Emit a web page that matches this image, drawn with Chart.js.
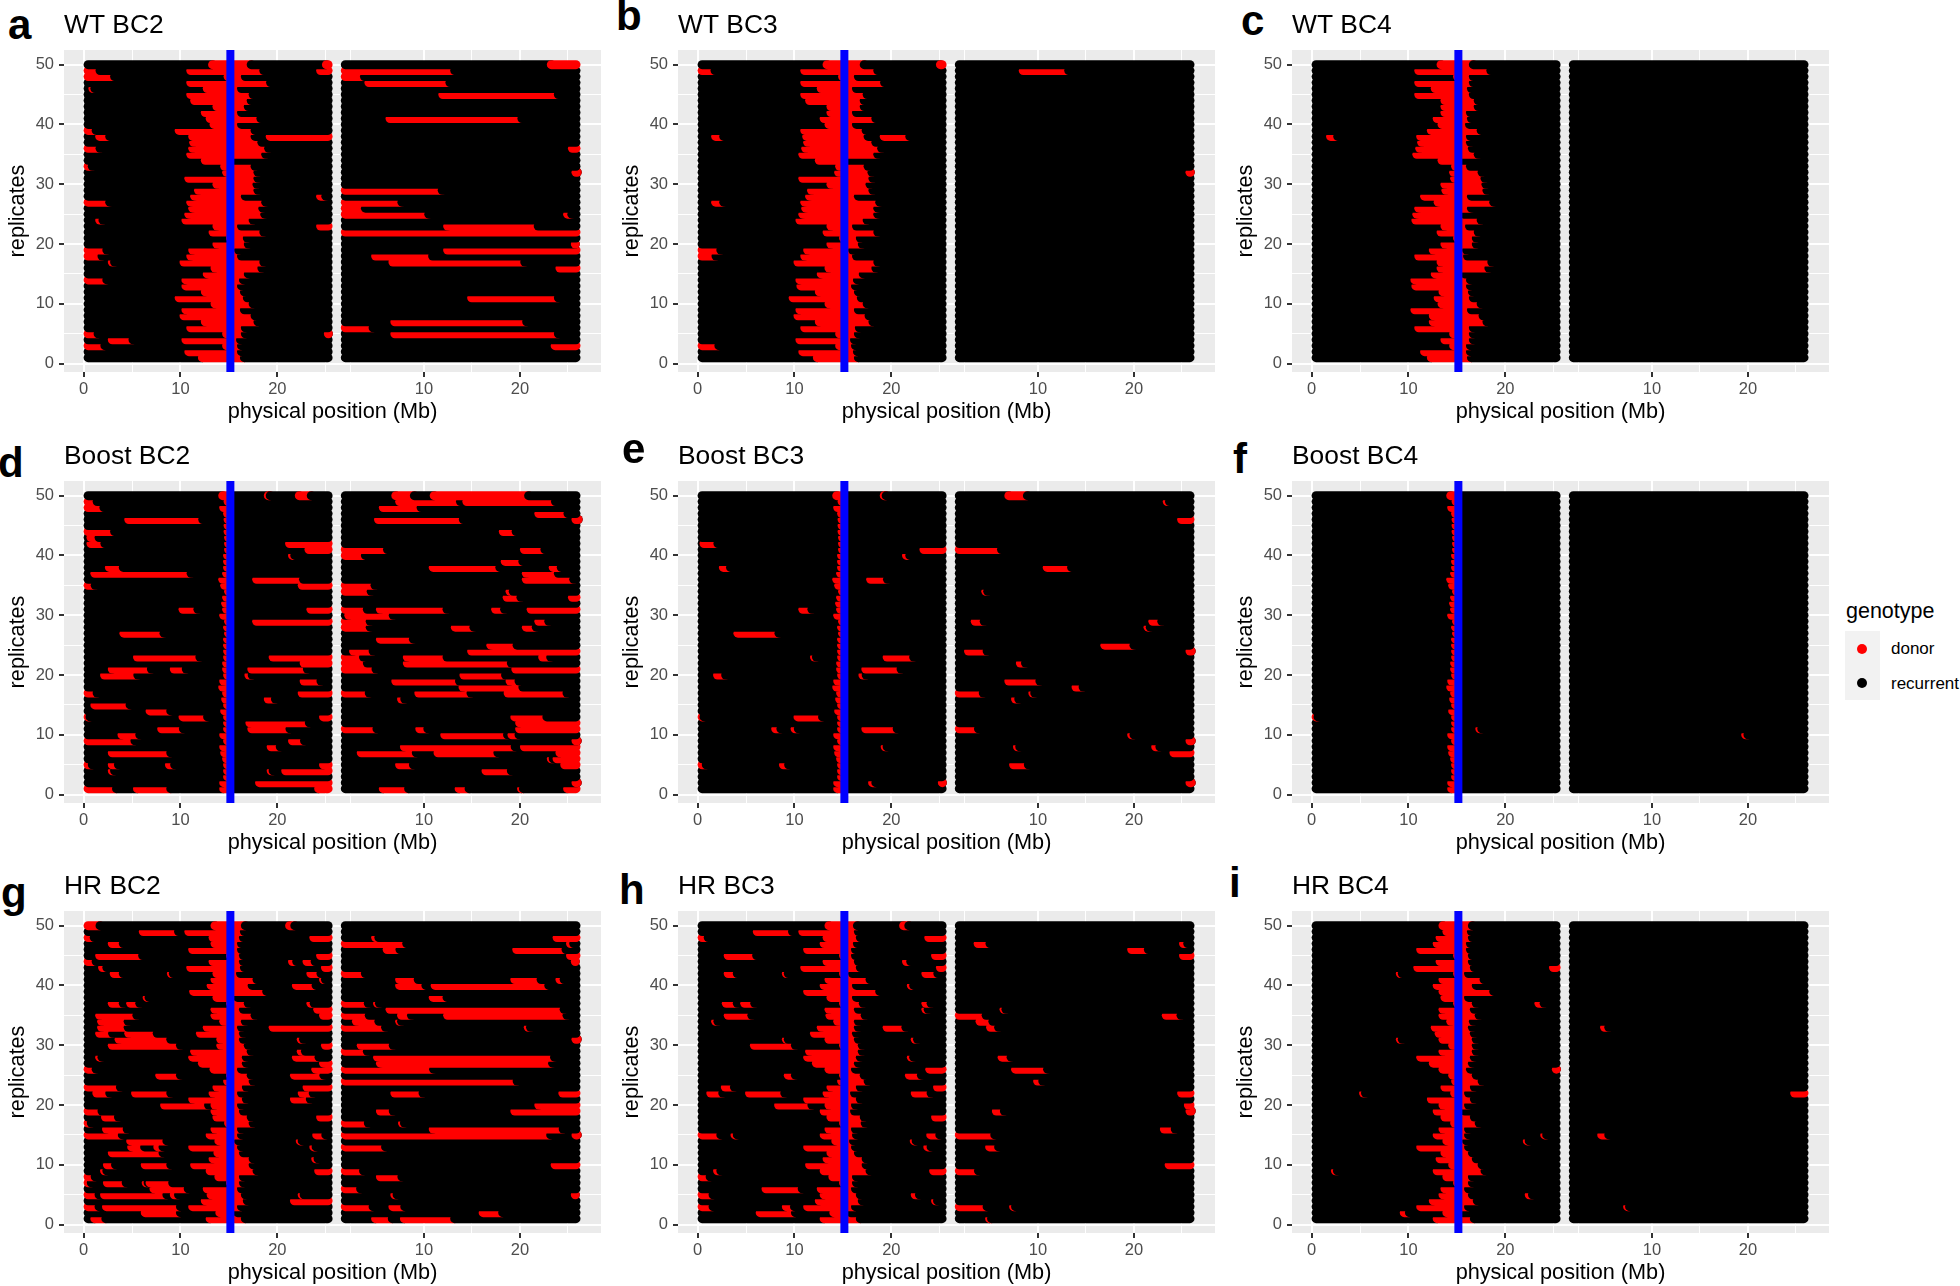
<!DOCTYPE html>
<html>
<head>
<meta charset="utf-8">
<title>replicates</title>
<script src="https://cdn.jsdelivr.net/npm/chart.js@4"></script>
<style>
  html, body { margin: 0; padding: 0; background: #fff; }
  body { position: relative; width: 1960px; height: 1286px; overflow: hidden; font-family: "Liberation Sans", sans-serif; }
  canvas { position: absolute; }
  .letter { position: absolute; font-size: 42px; line-height: 42px; font-weight: bold; color: #000; }
  .lg { position: absolute; color: #000; white-space: nowrap; }
</style>
</head>
<body>
<div class="lg" style="left:1846px;top:598px;font-size:21.5px;line-height:26px">genotype</div>
<div class="lg" style="left:1845px;top:631px;width:35px;height:69px;background:#f2f2f2"></div>
<div class="lg" style="left:1857px;top:644px;width:10px;height:10px;border-radius:5px;background:#ff0000"></div>
<div class="lg" style="left:1857px;top:678px;width:10px;height:10px;border-radius:5px;background:#000"></div>
<div class="lg" style="left:1891px;top:639px;font-size:17px;line-height:20px">donor</div>
<div class="lg" style="left:1891px;top:674px;font-size:17px;line-height:20px">recurrent</div>
<script>
// donor segments: [replicate, from Mb, to Mb]
const wtBc2Left = [[50,12.85,17.3],[50,24.6,25.7],[49,0,1.7],[49,10.6,18.6],[49,24,25.7],[48,0,3.2],[48,14.45,16.7],[47,10.6,19.3],[46,0.5,0.9],[46,12.3,16.3],[45,10.6,17.5],[44,11,17.3],[43,13.3,17],[42,12.1,16.3],[41,12.6,18.3],[40,13,16.3],[39,0,1.3],[39,9.4,17.7],[38,1.2,2.7],[38,10.8,17.7],[38,18.8,25.7],[37,10.9,18.4],[36,0,1.7],[36,10.8,19.1],[35,10.6,18.8],[34,12.1,15.4],[33,0,0.9],[33,14.1,17.7],[32,14.3,18],[31,10.4,18],[30,13.3,17.9],[29,11.4,18],[28,11,16.7],[28,24,25],[27,0,2.7],[27,10.6,18.8],[26,10.8,18.5],[25,10.4,18.7],[24,1.2,2],[24,10.1,17.5],[23,13.3,16.3],[23,24,25.7],[22,12.9,18.6],[21,14.7,16.9],[20,13.3,17],[19,0,2.4],[19,10.8,16],[18,0,1.9],[18,10.6,16.3],[17,2.5,3.2],[17,9.9,18.6],[16,13.1,18.4],[15,12.3,17],[14,0,2.4],[14,10.1,16.5],[13,10.1,16.3],[12,12.1,16.6],[11,9.4,16.9],[10,13.1,17.5],[9,10.1,16.6],[8,9.9,17.7],[7,12.1,18],[6,10.6,16.7],[5,0,1.5],[5,14.3,16.7],[5,24.8,25.7],[4,2.5,5.1],[4,10.1,16.2],[3,0,2.2],[3,14.3,16.3],[2,10.4,16.3],[1,11.8,16.6]];
const wtBc2Right = [[50,22.8,26.3],[49,1.34,13.2],[48,1.34,3.8],[47,3.8,12.7],[45,11.5,24],[41,6,20.2],[36,25,26.3],[32,25.5,26.3],[29,1.34,11.9],[27,1.34,7.7],[26,1.34,3.9],[25,1.34,10.5],[25,24.5,25.4],[23,12,21.9],[22,1.34,26.3],[20,25.3,26.3],[19,12,26.3],[18,4.5,10.9],[17,6.3,20.5],[16,23.7,26.3],[11,14.5,24],[7,6.5,20.7],[6,1.34,4.7],[5,6.5,24],[3,23.2,26.3]];

const wtBc3Left = [[50,12.9,17.2],[50,24.6,25.7],[49,0,1.8],[49,10.6,18.6],[48,14.5,16.6],[47,10.6,19.3],[46,12.3,16.4],[45,10.6,17.5],[44,11.1,17.2],[43,13.3,17.2],[42,13.3,16.4],[41,12.6,18.4],[40,13.1,16.4],[39,10.6,17.4],[38,1.4,2.7],[38,10.8,17.6],[38,18.8,21.9],[37,10.9,18.4],[36,10.7,19],[35,10.4,18.6],[34,12.1,15.6],[33,14.2,17.6],[32,14.1,18],[31,10.4,18.1],[30,13.3,17.8],[29,11.3,18.1],[28,11.1,16.6],[27,1.4,2.7],[27,10.6,18.8],[26,10.7,18.6],[25,10.4,18.6],[24,10.1,17.5],[23,13.3,16.4],[22,12.9,18.6],[21,14.6,16.8],[20,13.3,17],[19,0,2.4],[19,10.9,16],[18,0,1.9],[18,10.6,16.4],[17,9.9,18.6],[16,13.1,18.4],[15,12.3,17.1],[14,10.1,16.5],[13,10.2,16.3],[12,12.1,16.6],[11,9.4,16.9],[10,13.1,17.5],[9,10.1,16.6],[8,9.9,17.7],[7,12.1,18.1],[6,10.6,16.7],[5,14.2,16.6],[4,10.1,16.2],[3,0,2.2],[3,14.2,16.3],[2,10.4,16.5],[1,11.9,16.6]];
const wtBc3Right = [[49,8,13.2],[32,25.4,26.3]];

const wtBc4Left = [[50,12.9,16.7],[49,10.6,18.5],[48,14.6,16.7],[47,10.6,16.7],[46,12.3,16.5],[45,10.6,16.7],[44,13.3,17.2],[43,13.3,17.2],[42,13.3,16.4],[41,12.5,16.5],[40,13,16.3],[39,11.9,17.5],[38,1.5,2.7],[38,10.8,16.4],[37,10.9,16.4],[36,10.7,16.6],[35,10.4,17.2],[34,13,15.5],[33,14.4,16.4],[32,14.2,17.6],[31,14.3,17.9],[30,13.3,18],[29,13.4,18.1],[28,11.2,16.5],[27,12.6,18.8],[26,10.6,16.5],[25,10.4,15.7],[24,10.3,17.5],[23,13.3,16.3],[22,12.9,17.2],[21,14.6,17],[20,13.3,17],[19,12.1,16],[18,10.6,16.1],[17,12.9,18.6],[16,12.9,18.3],[15,12.3,15.8],[14,10.2,16.4],[13,10.3,16.4],[12,13.1,16.6],[11,12.6,16.7],[10,13,17.5],[9,10.2,16.5],[8,12.1,17.7],[7,12.1,18.1],[6,10.6,16.7],[5,14.2,16.7],[4,13.3,16.7],[3,14.2,16.4],[2,11.2,16.4],[1,11.9,16.5]];
const wtBc4Right = [];

// small donor pieces next to the blue bar, shared by the three Boost panels
const boostLocus = [[50,13.9,15.3],[49,14.45,15.3],[48,14,15.3],[47,14.4,15.3],[46,14.45,15.3],[45,14.45,15.3],[44,14.45,15.3],[43,14.5,15.3],[42,14.5,15.3],[41,14.5,15.3],[40,14.4,15.3],[39,14.4,15.3],[38,14.4,15.3],[37,14.3,15.3],[36,13.9,15.3],[35,14.1,15.3],[34,14.5,15.3],[33,14.3,15.3],[32,14.2,15.3],[31,14.3,15.3],[30,14,15.3],[29,14.5,15.3],[28,14.4,15.3],[27,14.5,15.3],[26,14.4,15.3],[25,14.4,15.3],[24,14.4,15.3],[23,14.4,15.3],[22,14.3,15.3],[21,14.3,15.3],[20,14.4,15.3],[19,14,15.3],[18,13.9,15.3],[17,14.3,15.3],[16,14.2,15.3],[15,14.4,15.3],[14,14.1,15.3],[13,14.4,15.3],[12,14.4,15.3],[11,14.4,15.3],[10,14,15.3],[9,14.4,15.3],[8,14,15.3],[7,14.1,15.3],[6,14.3,15.3],[5,14.4,15.3],[4,14.4,15.3],[3,14.4,15.3],[2,14,15.3],[1,14,15.3]];

const boostBc2Left = [[50,18.6,19.1],[50,21.8,23.5],[49,0,1.4],[48,0,2.1],[46,4.2,12.3],[44,0,3.2],[43,0.3,1.6],[42,0.3,2.2],[42,20.8,25.7],[41,22.8,25.7],[40,21.1,21.8],[38,2.2,4.1],[37,0.7,11.1],[36,17.4,22.7],[35,0,1.2],[35,22.1,25.7],[31,9.8,11.8],[31,23,25.7],[29,17.4,25.7],[27,3.7,8.3],[23,5.1,12],[23,19.1,25.7],[22,22.3,25.7],[21,2.5,7],[21,8.9,10.6],[21,16.9,23.1],[20,1.7,5.6],[20,16.6,17.4],[19,22.3,24.5],[17,0,1.4],[17,22.1,25.7],[16,18.6,19.8],[15,0.7,4.8],[14,6.4,9],[13,0,0.5],[13,9.8,12.8],[13,24.3,25.7],[12,16.7,23.3],[11,7.6,10.3],[11,16.9,21.3],[10,3.5,5.8],[9,0,5.3],[9,21.1,22.8],[8,18.9,20.3],[7,2.5,9],[5,0,0.9],[5,2.5,3.6],[5,8.4,9.4],[5,24.3,25.7],[4,2.5,3.2],[4,18.9,19.4],[4,20.4,25.7],[2,17.7,25.7],[1,0,3.4],[1,5.1,9],[1,23.8,25.7]];
const boostBc2Right = [[50,6.6,9],[50,10.6,20.9],[49,7,13.8],[49,14,23.7],[48,5.3,9.7],[47,21.5,25],[46,4.8,14.1],[46,25.6,26.3],[44,17.8,19.6],[41,1.34,6.2],[41,20,22.6],[40,1.34,3.9],[39,18,20.3],[38,10.5,17.9],[38,23,24.3],[37,20.2,24],[36,20.2,25.6],[35,1.34,4.9],[34,1.34,4.5],[34,18.5,19.3],[33,18.2,20.1],[33,25,26.3],[31,1.34,4.1],[31,5,12.4],[31,17,18.4],[31,20.7,26.3],[30,1.7,6.8],[29,1.34,4.4],[29,21.5,23],[28,1.34,4.4],[28,12.8,15.2],[28,20.2,21.7],[26,5,8.9],[25,16.5,19.7],[24,2.2,4.7],[24,14.5,26.3],[23,1.34,3.7],[23,7.8,12.4],[23,21.9,23.2],[22,1.34,4.1],[22,7.8,19.1],[21,1.34,5],[21,19.1,26.3],[20,13.7,18.5],[19,6.6,13.7],[19,18.5,19.9],[18,13.6,20.3],[17,1.34,4.3],[17,9,14.9],[17,18.3,24.9],[16,7.2,8],[13,19,22.8],[12,19.5,26.3],[11,1.34,5.1],[11,9.1,10.4],[11,19.5,26.3],[10,11.7,18.7],[10,18.7,19.9],[9,25.5,26.3],[8,7.5,19.5],[8,20,26.3],[7,3,9.2],[7,11,17.7],[7,23.7,26.3],[6,22.8,23.2],[6,23.4,26.3],[5,7,8.9],[5,24.2,26.3],[4,16,19.1],[2,25.5,26.3],[1,5.3,8.4],[1,13.2,14.7],[1,19.7,20.3],[1,24.5,26.3]];

const boostBc3Left = [[50,18.8,19.4],[42,0.2,2.1],[41,22.9,25.7],[40,21.1,21.9],[38,2.2,3.4],[36,17.4,19.6],[31,10.4,11.8],[27,3.7,8.4],[23,11.6,12.1],[23,19.1,22.3],[21,16.9,21],[20,1.6,2.9],[20,16.6,17.4],[13,0,0.4],[13,9.9,12.9],[11,7.6,8.6],[11,9.6,10.4],[11,16.9,20.6],[8,18.9,19.4],[5,0,0.9],[5,8.4,9.4],[2,17.6,18.4],[2,24.8,25.7]];
const boostBc3Right = [[50,6.5,8.9],[49,23,23.7],[46,24.5,26.3],[41,1.34,6.2],[38,10.5,13.5],[34,4.1,4.5],[29,3,4.4],[29,21.5,22.9],[28,21,21.7],[25,16.5,20],[24,2.3,4.7],[24,25.5,26.3],[22,7.7,8.7],[19,6.5,10.2],[18,13.5,14.7],[17,1.34,4.3],[17,9,9.5],[16,7.2,8],[11,1.34,3.8],[10,19.3,20],[9,25.5,26.3],[8,7.4,8.1],[8,21.8,22.7],[7,23.7,26.3],[5,7,9],[2,25.5,26.3]];

const boostBc4Left = [[13,0,0.4],[11,16.9,17.3]];
const boostBc4Right = [[10,19.3,20]];

const hrBc2Left = [[50,0,1.7],[50,13.1,16.7],[50,20.8,21.8],[49,5.7,9.8],[49,10.4,16.6],[48,0,1.1],[48,12.9,16.5],[48,23.3,25.7],[47,2.5,4.1],[47,13.1,16.3],[46,10.8,16.3],[45,1.2,6.1],[45,14.7,16.5],[45,24,25.7],[44,0,1.3],[44,12.9,16.5],[44,21.1,22],[44,22.6,23.9],[43,1.5,2.4],[43,10.6,16.6],[43,24.5,25.7],[42,2.7,4.1],[42,8.6,9.2],[42,13.3,16.2],[42,23,24.5],[41,13.1,17.9],[41,24.3,24.8],[40,12.7,17.4],[40,21.5,24],[39,10.9,18.9],[38,6.1,6.6],[38,13.3,15.9],[37,2.5,4.1],[37,4.4,5.8],[37,14.7,17],[37,23,23.8],[36,13.1,16.5],[36,23.7,25.7],[35,1.2,5.5],[35,13.1,17.7],[35,24.3,25.7],[34,1.4,4.6],[34,14,16.7],[33,1.4,4.6],[33,12.3,16.3],[33,19.1,25.7],[32,1.2,3],[32,4.2,7.6],[32,11.6,16.5],[31,3.2,9],[31,13.7,16.5],[31,22,22.7],[30,2.5,10],[30,13.7,17],[30,24.5,25.7],[29,11,17.3],[29,22,22.9],[28,1.2,1.9],[28,10.8,16.8],[28,21.5,24.3],[27,11.8,16.8],[27,24.3,25.7],[26,0,1.3],[26,13,16.3],[26,23.5,25.7],[25,7.4,10],[25,14.7,17.3],[25,21.3,24.8],[24,14.4,17.5],[23,0,3.8],[23,13.3,16.8],[23,22.6,25.7],[22,0.9,2.7],[22,4.9,9],[22,12.9,16.3],[22,22.1,23.7],[21,10.8,16.8],[21,21.3,23.4],[20,7.9,12.9],[20,13.1,16.3],[19,0,1.9],[19,13.1,16.5],[18,1.8,3.6],[18,13.3,17.3],[18,24,25.7],[17,0,0.8],[17,14.5,17.5],[16,1.9,4.5],[16,13.1,16.3],[15,0,4],[15,12.6,16.3],[15,23.6,25],[14,4.4,8.6],[14,13.5,16],[14,21.9,22.3],[13,4.5,6.3],[13,7.2,8.2],[13,10.8,16.3],[13,23.3,24],[12,2.5,8.2],[12,13.4,16.5],[11,12.9,17.5],[11,23.5,24.2],[10,2,3.3],[10,5.9,9],[10,11,17.5],[9,1.7,2.4],[9,12.6,17.9],[9,23.8,25.7],[8,0,1.2],[8,13.5,16.5],[7,0,0.8],[7,2,4.4],[7,6,6.3],[7,6.4,9.2],[7,14.7,16.5],[6,6.8,10.8],[6,12.3,16.3],[5,0,1.6],[5,1.7,8.6],[5,8.9,9.8],[5,12.7,16.7],[5,22.1,22.6],[4,12.1,16.9],[4,21.3,25.7],[3,0,1.6],[3,1.9,10],[3,10.8,16.3],[2,5.9,10],[2,13.6,15.9],[1,0.7,2.3],[1,12.6,16.7]];
const hrBc2Right = [[48,4.5,5.3],[48,23.4,26.3],[47,1.34,8.2],[47,24.8,25.6],[46,5.7,7.5],[46,19.2,24.8],[45,24.8,26.3],[44,25.3,26.3],[42,1.34,3.9],[41,7,9.4],[41,19,22.2],[41,23.7,24.6],[40,7,10.2],[40,10.7,23],[38,10.5,12.4],[37,1.34,4.2],[37,4.7,5.1],[36,6,24.6],[35,1.34,4.3],[35,7.2,8.7],[35,12,24.9],[34,2.5,5.3],[34,7,7.4],[33,1.34,6],[33,20.4,21.1],[31,25.5,26.3],[30,3,6.8],[29,1.34,4.1],[28,4.7,23.6],[27,5,23.4],[26,1.34,11],[24,1.34,19.7],[22,6.5,9.9],[22,24,26.3],[20,21.5,26.3],[19,5,6.8],[19,19,26.3],[17,1.34,4.2],[17,7.3,7.8],[16,10.5,24.5],[15,1.34,23.2],[15,25.5,26.3],[13,1.34,6],[10,23.2,26.3],[9,1.34,3.7],[8,5,7.7],[6,1.34,3.4],[5,6.5,7.2],[5,25.3,25.8],[3,1.34,4.7],[3,6.3,8],[2,15.7,18.2],[1,4.5,6.7],[1,7.5,13.2]];

const hrBc3Left = [[50,13.1,16.5],[50,20.8,21.8],[49,5.7,9.8],[49,10.4,16.6],[48,0,1.1],[48,12.9,16.8],[48,23.4,25.7],[47,12.6,16.5],[46,10.9,16.3],[45,2.7,6.1],[45,14.6,16.3],[45,24.1,25.7],[44,12.9,16.6],[44,21.1,22],[43,10.6,16.8],[43,24.6,25.7],[42,2.7,4.1],[42,8.7,9.1],[42,14.6,16],[42,23.1,24.8],[41,13.1,17.8],[40,12.6,16.4],[40,21.6,22.3],[39,10.9,18.8],[38,13.3,16.4],[37,2.5,4.1],[37,4.4,5.9],[37,14.6,17.1],[37,23.1,24.1],[36,13.1,16.6],[36,23.1,23.8],[35,2.7,5.6],[35,13.2,17.3],[34,1.4,2.1],[34,14,16.6],[33,12.3,16.6],[33,19.1,21.5],[32,11.6,16.4],[31,8.7,9.1],[31,13.1,16.6],[31,22,22.7],[30,5.4,10.1],[30,14.6,17],[29,11.1,17],[28,10.9,16.8],[28,21.6,22.3],[27,11.8,16.6],[26,13.1,16.3],[26,23.5,25.7],[25,8.9,10.1],[25,14.6,17.2],[25,21.4,23.1],[24,14.4,17.6],[23,2.4,3.8],[23,13.3,16.8],[23,24.3,25.7],[22,0.9,2.6],[22,4.9,9],[22,12.9,16.2],[22,22,24.1],[21,10.9,16.8],[20,7.9,11.8],[20,13.1,16.3],[19,12.6,16.2],[18,13.3,17.2],[18,24.1,25.7],[17,14.6,17.3],[16,13.1,16.3],[15,0,2.4],[15,3.4,4.1],[15,12.6,16.4],[15,23.6,25],[14,13.8,16.1],[14,21.9,22.3],[13,10.9,16.3],[13,23.3,24.1],[12,13.3,16.6],[11,12.9,17.4],[10,11.1,17.4],[9,1.6,2.4],[9,12.6,17.8],[9,23.9,25.7],[8,0,1.3],[8,13.5,16.4],[7,14.6,16.4],[6,6.6,10.8],[6,12.3,16.3],[5,0,1.6],[5,12.6,16.8],[5,22,22.9],[4,12.1,17],[4,24.1,24.5],[3,0,1.6],[3,8.7,10],[3,10.9,16.3],[2,6,10.1],[2,13.6,15.8],[1,12.6,16.8]];
const hrBc3Right = [[47,3.3,5],[47,24.7,25.6],[46,19.3,21.5],[45,24.7,26.3],[36,6,6.5],[35,1.34,4.6],[35,22.9,24.9],[34,3.5,5.3],[33,4.6,5.9],[28,5.8,7.2],[26,7.2,11],[24,9.5,10.5],[22,24.5,26.3],[20,25.2,26.3],[19,5.2,6.5],[19,25.5,26.3],[16,22.7,24.3],[15,1.34,5.5],[13,4.5,5.9],[10,23.2,26.3],[9,1.34,3.8],[3,1.34,4.7],[3,7,7.5],[1,4.5,4.9]];

const hrBc4Left = [[50,13.1,16.6],[49,13.5,16.5],[48,12.8,16.6],[47,12.5,16.4],[46,10.8,16.4],[45,14.6,16.6],[44,12.8,16.6],[43,10.5,16.8],[43,24.5,25.7],[42,8.7,9.1],[42,14.6,16.2],[41,13.1,17.8],[40,12.5,17],[39,13.1,18.8],[38,13.3,16.2],[37,14.6,17],[37,23,24],[36,13.1,16.8],[35,13.1,17.3],[34,13.9,16.7],[33,12.3,16.6],[32,12.7,16.8],[31,8.7,9.1],[31,13.1,17],[30,14.1,17],[29,13.1,17],[28,10.8,16.8],[27,12.1,16.6],[26,13.1,16.4],[26,24.8,25.7],[25,14.1,17],[24,14.4,17.6],[23,13.3,16.8],[22,4.9,5.4],[22,14.3,16.2],[21,11.9,16.8],[20,13.1,16.2],[19,12.5,15.8],[18,13.3,16.8],[17,14.3,17.3],[16,13.1,16.2],[15,12.5,16.2],[15,23.6,24],[14,13.5,16],[14,21.8,22.2],[13,10.8,16.2],[12,13.3,16.6],[11,12.8,17],[10,14.1,17.6],[9,2,2.4],[9,12.5,17.9],[8,13.5,16.6],[7,14.6,16.6],[6,13.3,16.2],[5,13.1,16.6],[5,22,22.8],[4,12.1,17.1],[3,10.8,16.2],[2,9.1,10.1],[2,13.5,15.6],[1,12.5,16.8]];
const hrBc4Right = [[33,4.6,5.5],[22,24.4,26.3],[15,4.3,5.5],[3,7,7.5]];

const replicates = [50,49,48,47,46,45,44,43,42,41,40,39,38,37,36,35,34,33,32,31,30,29,28,27,26,25,24,23,22,21,20,19,18,17,16,15,14,13,12,11,10,9,8,7,6,5,4,3,2,1];
const chrLeftExtent = [0, 25.7];
const chrRightExtent = [1.34, 26.3];
const blueBarMb = 15.15;

const yTicks = [0, 5, 10, 15, 20, 25, 30, 35, 40, 45, 50];
const yLabels = [0, 10, 20, 30, 40, 50];
const xLeftTicks = [0, 5, 10, 15, 20, 25];
const xLeftLabels = [0, 10, 20];
const xRightTicks = [2.3, 10, 15, 20, 25];
const xRightLabels = [10, 20];

const panels = [
  { letter: 'a', title: 'WT BC2', col: 0, row: 0, left: wtBc2Left, right: wtBc2Right, lx: 8, ly: 39 },
  { letter: 'b', title: 'WT BC3', col: 1, row: 0, left: wtBc3Left, right: wtBc3Right, lx: 616, ly: 30 },
  { letter: 'c', title: 'WT BC4', col: 2, row: 0, left: wtBc4Left, right: wtBc4Right, lx: 1241, ly: 35 },
  { letter: 'd', title: 'Boost BC2', col: 0, row: 1, left: boostBc2Left.concat(boostLocus), right: boostBc2Right, lx: -2, ly: 477 },
  { letter: 'e', title: 'Boost BC3', col: 1, row: 1, left: boostBc3Left.concat(boostLocus), right: boostBc3Right, lx: 622, ly: 463 },
  { letter: 'f', title: 'Boost BC4', col: 2, row: 1, left: boostBc4Left.concat(boostLocus), right: boostBc4Right, lx: 1233, ly: 473 },
  { letter: 'g', title: 'HR BC2', col: 0, row: 2, left: hrBc2Left, right: hrBc2Right, lx: 1, ly: 907 },
  { letter: 'h', title: 'HR BC3', col: 1, row: 2, left: hrBc3Left, right: hrBc3Right, lx: 619, ly: 904 },
  { letter: 'i', title: 'HR BC4', col: 2, row: 2, left: hrBc4Left, right: hrBc4Right, lx: 1229, ly: 897 }
];

const colLefts = [0, 614, 1228];
const rowTops = [0, 431, 861];
const canvasWidth = 601, canvasHeight = 428;
const lineW = 9;      // point diameter in px
const capMb = 0.465;  // point radius in Mb
const font = '"Liberation Sans", sans-serif';

const panelBg = {
  id: 'panelBg',
  beforeDraw(chart) {
    const a = chart.chartArea;
    chart.ctx.fillStyle = '#ebebeb';
    chart.ctx.fillRect(a.left, a.top, a.right - a.left, a.bottom - a.top);
  },
  // labels are clipped to the scale box, so x2 gets its height back after layout
  afterLayout(chart) {
    chart.scales.x2.bottom = chart.scales.x2.top + 56;
  }
};

function piece(xAxis, rep, x0, x1, color) {
  return {
    xAxisID: xAxis, yAxisID: 'y',
    data: [{ x: x0, y: rep }, { x: x1, y: rep }],
    borderColor: color, borderWidth: lineW, borderCapStyle: 'round',
    pointRadius: 0, fill: false, tension: 0
  };
}

// each replicate is painted left to right, the way the points overlap
function rowPieces(xAxis, rep, segs, extent) {
  const out = [];
  const lo = extent[0] + capMb, hi = extent[1] - capMb;
  const reds = segs.filter(s => s[0] === rep).sort((p, q) => p[1] - q[1]);
  let pos = lo;
  reds.forEach(s => {
    const a = Math.max(s[1] + capMb, lo);
    if (a > pos) out.push(piece(xAxis, rep, pos, a, '#000000'));
    const b = Math.min(Math.max(s[2], a + 0.2), hi);
    out.push(piece(xAxis, rep, a, b, '#ff0000'));
    pos = b;
  });
  if (pos < hi) out.push(piece(xAxis, rep, pos, hi, '#000000'));
  return out;
}

function tickGrid(labels) {
  return {
    color: '#ffffff',
    lineWidth: c => labels.includes(c.tick.value) ? 2 : 1,
    tickColor: c => labels.includes(c.tick.value) ? '#333333' : 'rgba(0,0,0,0)',
    tickWidth: 2,
    tickLength: 5
  };
}

panels.forEach(p => {
  const letter = document.createElement('div');
  letter.className = 'letter';
  letter.textContent = p.letter;
  letter.style.left = p.lx + 'px';
  letter.style.top = (p.ly - 35.5) + 'px';
  document.body.appendChild(letter);

  const cv = document.createElement('canvas');
  cv.width = canvasWidth;
  cv.height = canvasHeight;
  cv.style.left = colLefts[p.col] + 'px';
  cv.style.top = rowTops[p.row] + 'px';
  document.body.appendChild(cv);

  // bottom replicate first so that higher replicates cover it
  const order = replicates.slice().reverse();
  let sets = [];
  order.forEach(rep => {
    sets = sets.concat(rowPieces('x', rep, p.left, chrLeftExtent));
    sets = sets.concat(rowPieces('x2', rep, p.right, chrRightExtent));
  });
  sets.push({
    xAxisID: 'x', yAxisID: 'y',
    data: [{ x: blueBarMb, y: -1.4 }, { x: blueBarMb, y: 52.45 }],
    borderColor: '#0000ff', borderWidth: 8, borderCapStyle: 'butt',
    pointRadius: 0, fill: false
  });
  sets.reverse(); // Chart.js paints the first dataset last

  new Chart(cv, {
    type: 'line',
    data: { datasets: sets },
    plugins: [panelBg],
    options: {
      responsive: false,
      animation: false,
      events: [],
      devicePixelRatio: 1,
      layout: { padding: 0 },
      plugins: {
        legend: { display: false },
        tooltip: { enabled: false },
        title: {
          display: true, text: p.title, align: 'start', fullSize: false, color: '#000',
          font: { family: font, size: 26.4, weight: 'normal', lineHeight: 1.2 },
          padding: { top: 10, bottom: 8.3 }
        }
      },
      scales: {
        x: {
          type: 'linear', position: 'bottom', min: -2.02, max: 53.4,
          afterBuildTicks: s => { s.ticks = xLeftTicks.map(v => ({ value: v })); },
          afterFit: s => { s.height = 56; },
          grid: tickGrid(xLeftLabels),
          border: { display: false },
          ticks: {
            autoSkip: false, maxRotation: 0, padding: 3, color: '#4d4d4d',
            font: { family: font, size: 16.5 },
            callback: v => xLeftLabels.includes(v) ? String(v) : ''
          },
          title: {
            display: true, text: 'physical position (Mb)', color: '#000',
            font: { family: font, size: 21.7 }, padding: { top: 0, bottom: 3 }
          }
        },
        // second chromosome: same drawing area, zero-height box, its own ticks
        x2: {
          type: 'linear', position: 'bottom', weight: -1, min: -27.5, max: 28.44,
          afterBuildTicks: s => { s.ticks = xRightTicks.map(v => ({ value: v })); },
          afterFit: s => { s.height = 0; },
          grid: tickGrid(xRightLabels),
          border: { display: false },
          ticks: {
            autoSkip: false, maxRotation: 0, padding: 3, color: '#4d4d4d',
            font: { family: font, size: 16.5 },
            callback: v => xRightLabels.includes(v) ? String(v) : ''
          }
        },
        y: {
          type: 'linear', position: 'left', min: -1.4, max: 52.45,
          afterBuildTicks: s => { s.ticks = yTicks.map(v => ({ value: v })); },
          afterFit: s => { s.width = 64; },
          grid: tickGrid(yLabels),
          border: { display: false },
          ticks: {
            autoSkip: false, padding: 5, color: '#4d4d4d',
            font: { family: font, size: 16.5 },
            callback: v => yLabels.includes(v) ? String(v) : ''
          },
          title: {
            display: true, text: 'replicates', color: '#000',
            font: { family: font, size: 21.7 }, padding: { top: 5, bottom: 0 }
          }
        }
      }
    }
  });
});
</script>
</body>
</html>
